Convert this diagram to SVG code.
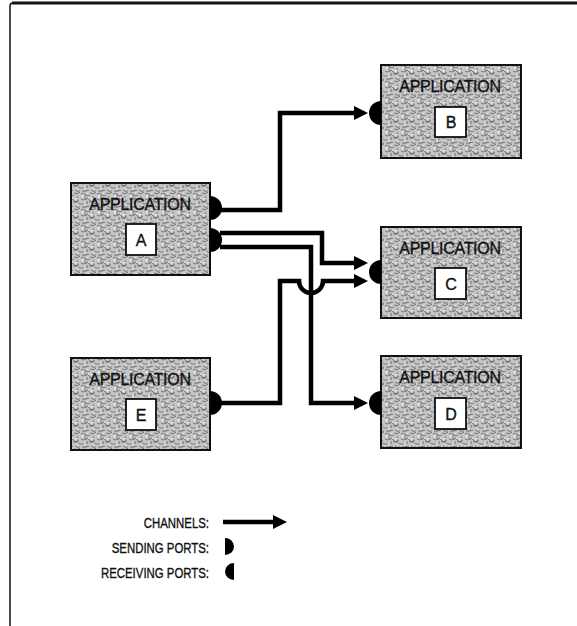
<svg xmlns="http://www.w3.org/2000/svg" width="577" height="626" viewBox="0 0 577 626">
  <defs>
    <pattern id="tex" patternUnits="userSpaceOnUse" width="16" height="16">
      <rect width="16" height="16" fill="#c6c6c6"/>
      <path d="M1,2 q3,-2 5,1 q2,2 4,0 M10,1 q3,2 6,-1 M1,7 q2,2 5,0 q2,-2 3,1 q2,3 6,1 M0,12 q3,-1 4,1 q1,3 5,1 M9,10 q3,-1 4,1 q2,2 3,0 M2,15 q3,1 5,-1 M11,14 q2,2 5,1 M5,3 q-1,2 1,4 M13,4 q-1,3 1,5 M7,9 q1,2 -1,4" fill="none" stroke="#5e5e5e" stroke-width="0.8"/>
      <path d="M2,3.5 q1.5,-1 2.5,0.8 q-1,1.5 -2.5,0.7 z M11,6 q1.5,-1 2.5,0.8 q-1,1.5 -2.5,0.7 z M4,12 q1.5,-1 2.5,0.8 q-1,1.5 -2.5,0.7 z M13,11.5 q1.5,-0.8 1.5,0.8 q-0.8,1.5 -1.5,0 z M7,0.5 q1.5,0 1.5,0.8 q-0.8,0.8 -1.5,0 z M8,5.5 q1,-0.5 1.5,0.5 q-0.7,1 -1.5,0 z" fill="#f4f4f4"/>
    </pattern>
    <marker id="arrow" markerUnits="userSpaceOnUse" viewBox="0 0 14 14" markerWidth="14" markerHeight="14" refX="1" refY="7" orient="auto">
      <path d="M0,0 L14,7 L0,14 Z" fill="#000"/>
    </marker>
    <style>
      .box { fill: url(#tex); stroke: #111; stroke-width: 2; }
      .lbl { fill: #fff; stroke: #111; stroke-width: 1.8; }
      .t { font-family: "Liberation Sans", Arial, Helvetica, sans-serif; fill: #111; stroke: #111; stroke-width: 0.35; }
      .app { font-size: 16px; letter-spacing: -0.3px; text-anchor: middle; }
      .let { font-size: 16px; text-anchor: middle; }
      .leg { font-size: 15px; text-anchor: end; }
      .port { fill: #000; }
      .ch { fill: none; stroke: #000; stroke-width: 4.5; stroke-linejoin: miter; }
    </style>
  </defs>

  <rect width="577" height="626" fill="#fff"/>

  <g id="frame">
    <path d="M10,626 V6 Q10,3 13,3 H577" fill="none" stroke="#111" stroke-width="1.5"/>
    <path d="M12,3 H577" fill="none" stroke="#111" stroke-width="3"/>
  </g>

  <g id="connectors">
    <path class="ch" d="M220,210 H280 V113 H355" marker-end="url(#arrow)"/>
    <path class="ch" d="M220,233 H322 V263 H355" marker-end="url(#arrow)"/>
    <path class="ch" d="M220,247 H311 V403 H355" marker-end="url(#arrow)"/>
    <path class="ch" d="M220,403 H280 V281 H299 A12,12 0 0 0 323,281 H355" marker-end="url(#arrow)"/>
  </g>

  <g id="nodeA">
    <rect class="box" x="71" y="183" width="139" height="92"/>
    <text class="t app" x="140" y="210">APPLICATION</text>
    <rect class="lbl" x="126" y="224" width="30" height="31"/>
    <text class="t let" x="141" y="246">A</text>
    <path class="port" d="M210,196 A12,12 0 0 1 210,220 Z"/>
    <path class="port" d="M210,228 A12,12 0 0 1 210,252 Z"/>
  </g>

  <g id="nodeB">
    <rect class="box" x="381" y="65" width="140" height="93"/>
    <text class="t app" x="450" y="92">APPLICATION</text>
    <rect class="lbl" x="435" y="107" width="31" height="30"/>
    <text class="t let" x="451" y="128">B</text>
    <path class="port" d="M381,101 A12,12 0 0 0 381,125 Z"/>
  </g>

  <g id="nodeC">
    <rect class="box" x="381" y="227" width="140" height="91"/>
    <text class="t app" x="450" y="254">APPLICATION</text>
    <rect class="lbl" x="435" y="268" width="31" height="31"/>
    <text class="t let" x="451" y="290">C</text>
    <path class="port" d="M381,260 A12,12 0 0 0 381,284 Z"/>
  </g>

  <g id="nodeD">
    <rect class="box" x="381" y="356" width="140" height="92"/>
    <text class="t app" x="450" y="383">APPLICATION</text>
    <rect class="lbl" x="435" y="398" width="31" height="31"/>
    <text class="t let" x="451" y="420">D</text>
    <path class="port" d="M381,391 A12,12 0 0 0 381,415 Z"/>
  </g>

  <g id="nodeE">
    <rect class="box" x="71" y="358" width="139" height="92"/>
    <text class="t app" x="140" y="385">APPLICATION</text>
    <rect class="lbl" x="126" y="399" width="30" height="31"/>
    <text class="t let" x="141" y="421">E</text>
    <path class="port" d="M210,391 A12,12 0 0 1 210,415 Z"/>
  </g>

  <g id="legend">
    <text class="t leg" transform="translate(209,527.5) scale(0.76,1)">CHANNELS:</text>
    <path class="ch" d="M223,522 H274" marker-end="url(#arrow)"/>
    <text class="t leg" transform="translate(209,552.5) scale(0.76,1)">SENDING PORTS:</text>
    <path class="port" d="M225,538 A9,8.5 0 0 1 225,555 Z"/>
    <text class="t leg" transform="translate(209,577.5) scale(0.76,1)">RECEIVING PORTS:</text>
    <path class="port" d="M234,563 A9,8.5 0 0 0 234,580 Z"/>
  </g>
</svg>
